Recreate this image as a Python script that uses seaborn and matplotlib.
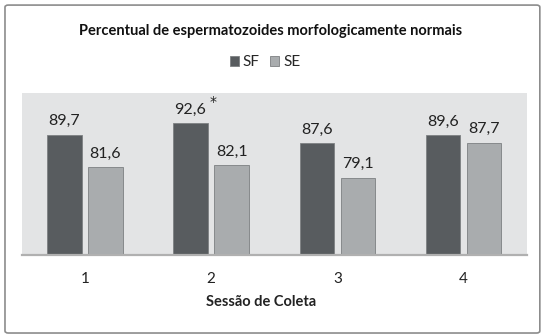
import seaborn as sns
import matplotlib.pyplot as plt
import pandas as pd
from matplotlib.patches import FancyBboxPatch

sessions = ["1", "2", "3", "4"]
sf_values = [89.7, 92.6, 87.6, 89.6]
se_values = [81.6, 82.1, 79.1, 87.7]
series = ["SF", "SE"]
title = "Percentual de espermatozoides morfologicamente normais"
xlabel = "Sessão de Coleta"

df = pd.DataFrame({
    "Sessão": sessions * 2,
    "valor": sf_values + se_values,
    "grupo": [series[0]] * 4 + [series[1]] * 4,
})

sns.set_theme(style="white")
plt.rcParams['font.family'] = ['Lato', 'DejaVu Sans']

fig = plt.figure(figsize=(5.48, 3.36), dpi=100)
ax = fig.add_axes([0.0396, 0.241, 0.9215, 0.483])
ax.set_facecolor("#e3e4e5")

sns.barplot(data=df, x="Sessão", y="valor", hue="grupo",
            palette={"SF": "#585c5f", "SE": "#a9acae"},
            width=0.65, gap=0.16, saturation=1, ax=ax,
            edgecolor="#7d8082", linewidth=0.6)

ax.set_ylim(60, 100)
ax.set_yticks([])
ax.set_ylabel("")
for s in ["top", "left", "right"]:
    ax.spines[s].set_visible(False)
ax.spines["bottom"].set_color("#b0b0b0")
ax.spines["bottom"].set_linewidth(1.6)
ax.tick_params(axis="x", length=0, pad=12, labelsize=11, labelcolor="#222222")

for cont in ax.containers:
    vals = cont.datavalues
    ax.bar_label(cont, labels=[f"{v:.1f}".replace(".", ",") for v in vals],
                 padding=4.5, fontsize=11.5, color="#222222")

# asterisk on session 2 SF bar
sf_cont = ax.containers[0]
idx = max(range(len(sf_values)), key=lambda i: sf_values[i])
p = sf_cont.patches[idx]
ax.annotate("*", xy=(p.get_x() + p.get_width(), p.get_height()),
            xytext=(1.5, 12), textcoords="offset points", ha="left", va="baseline",
            fontsize=10, color="#222222", family="DejaVu Sans")

ax.set_xlabel(xlabel, fontsize=10.5, fontweight="bold", color="#222222")
ax.xaxis.set_label_coords(0.474, -0.245)

handles, labels = ax.get_legend_handles_labels()
if ax.get_legend() is not None:
    ax.get_legend().remove()
fig.legend(handles, labels, loc="center", bbox_to_anchor=(0.4836, 0.815),
           bbox_transform=fig.transFigure, ncol=2, frameon=False,
           handlelength=0.6, handleheight=0.6, handletextpad=0.25,
           columnspacing=0.7, fontsize=11)

fig.text(0.4945, 1 - 31 / 336, title, ha="center", va="center",
         fontsize=10.5, fontweight="bold", color="#111111")

fig.patches.append(FancyBboxPatch((0.0091, 0.0089), 0.976, 0.976,
                                  boxstyle="round,pad=0,rounding_size=0.006",
                                  transform=fig.transFigure, fill=False,
                                  edgecolor="#8c8c8c", lw=1.2))

fig.savefig("out.png", dpi=100)
